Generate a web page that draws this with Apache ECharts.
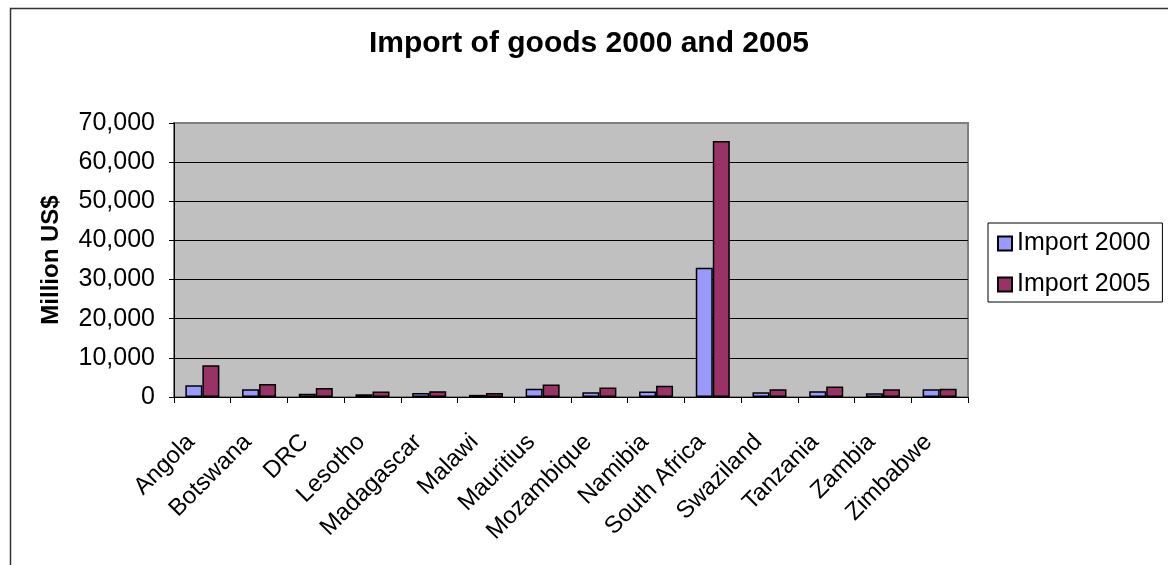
<!DOCTYPE html>
<html>
<head>
<meta charset="utf-8">
<script src="https://cdn.jsdelivr.net/npm/echarts@6/dist/echarts.min.js"></script>
<style>
html,body{margin:0;padding:0;background:#fff;}
#chart{width:1168px;height:565px;}
</style>
</head>
<body>
<div id="chart"></div>
<script>
var categories = ['Angola','Botswana','DRC','Lesotho','Madagascar','Malawi','Mauritius','Mozambique','Namibia','South Africa','Swaziland','Tanzania','Zambia','Zimbabwe'];
var import2000 = [3000, 2000, 800, 700, 1000, 550, 2100, 1200, 1400, 33000, 1200, 1500, 950, 1950];
var import2005 = [8100, 3300, 2300, 1400, 1500, 1000, 3200, 2400, 2900, 65400, 2000, 2700, 1950, 2100];
var yTicks = {min: 0, max: 70000, interval: 10000};

var chart = echarts.init(document.getElementById('chart'), null, {renderer: 'canvas'});
var font = 'Liberation Sans, Arial, sans-serif';
chart.setOption({
  animation: false,
  backgroundColor: '#ffffff',
  graphic: [{
    type: 'rect', left: 8, top: 6, silent: true,
    shape: {width: 1200, height: 600},
    style: {fill: 'none', stroke: '#333333', lineWidth: 1.5}
  }],
  title: {
    text: 'Import of goods 2000 and 2005',
    left: 589, top: 29, textAlign: 'center', padding: 0,
    textStyle: {fontFamily: font, fontWeight: 'bold', fontSize: 30, color: '#000'}
  },
  legend: {
    orient: 'vertical', left: 988, top: 223,
    padding: [8, 12, 5, 9], itemGap: 16,
    itemWidth: 14, itemHeight: 14, icon: 'rect',
    backgroundColor: '#ffffff', borderColor: '#000000', borderWidth: 1,
    textStyle: {fontFamily: font, fontSize: 25, color: '#000', lineHeight: 24},
    data: ['Import 2000', 'Import 2005']
  },
  grid: {
    left: 174, right: 200, top: 123, bottom: 168,
    show: true, backgroundColor: '#C0C0C0', borderColor: '#808080', borderWidth: 2,
    containLabel: false
  },
  xAxis: {
    type: 'category', data: categories,
    axisLine: {lineStyle: {color: '#000', width: 1}},
    axisTick: {show: true, length: 6, alignWithLabel: false, lineStyle: {color: '#000'}},
    axisLabel: {rotate: 45, margin: 30, interval: 0, padding: [0, 16, 0, 0],
      fontFamily: font, fontSize: 24, color: '#000'},
    splitLine: {show: false}
  },
  yAxis: {
    type: 'value', min: yTicks.min, max: yTicks.max, interval: yTicks.interval,
    name: 'Million US$', nameLocation: 'middle', nameGap: 111,
    nameTextStyle: {fontFamily: font, fontWeight: 'bold', fontSize: 24, color: '#000'},
    axisLine: {show: true, lineStyle: {color: '#000', width: 1}},
    axisTick: {show: true, length: 5, lineStyle: {color: '#000'}},
    axisLabel: {margin: 19, fontFamily: font, fontSize: 25, color: '#000',
      formatter: function (v) { return v.toLocaleString('en-US'); }},
    splitLine: {show: true, showMaxLine: false, lineStyle: {color: '#000', width: 1}}
  },
  series: [{
    name: 'Import 2000', type: 'bar', data: import2000,
    barGap: '0%', barCategoryGap: '40%',
    itemStyle: {color: '#9999FF', borderColor: '#000', borderWidth: 1.5}
  }, {
    name: 'Import 2005', type: 'bar', data: import2005,
    barGap: '0%', barCategoryGap: '40%',
    itemStyle: {color: '#993366', borderColor: '#000', borderWidth: 1.5}
  }]
});
</script>
</body>
</html>
